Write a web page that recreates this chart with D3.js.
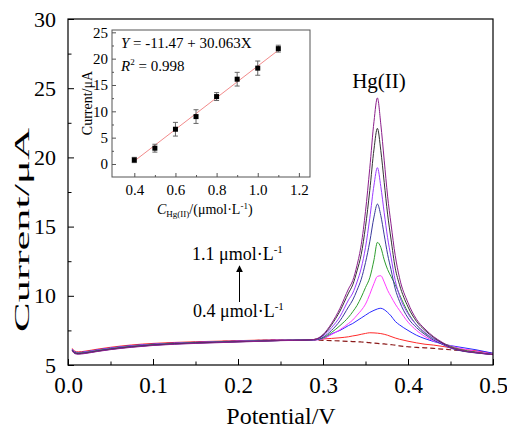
<!DOCTYPE html>
<html><head><meta charset="utf-8">
<script src="https://cdn.jsdelivr.net/npm/d3@7/dist/d3.min.js"></script>
<style>
html,body{margin:0;padding:0;background:#fff;}
svg{display:block;font-family:"Liberation Serif","Times New Roman",serif;}
</style></head>
<body><svg id="chart" width="507" height="428"></svg>
<script>
// ---------- DATA ----------
const potential = [0.005,0.008,0.012,0.02,0.035,0.05,0.075,0.1,0.15,0.2,0.25,
  0.28,0.29,0.30,0.31,0.32,0.33,0.335,0.34,0.345,0.35,0.355,0.36,0.364,0.368,0.372,0.376,0.38,0.385,0.39,0.40,0.41,0.42,0.43,0.44,0.45,0.46,0.48,0.50];

const blank   = [6.1,5.92,5.88,5.93,6.08,6.2,6.38,6.5,6.64,6.73,6.8,
  6.8,6.8,6.78,6.76,6.74,6.71,6.69,6.68,6.66,6.64,6.61,6.58,6.56,6.54,6.52,6.5,6.47,6.43,6.38,6.32,6.27,6.24,6.2,6.15,6.1,6.05,5.95,5.84];
const c04 = [6.2,6.0,5.95,6.0,6.15,6.28,6.45,6.56,6.68,6.76,6.82,
  6.8,6.85,6.88,6.92,6.97,7.04,7.1,7.15,7.22,7.28,7.33,7.32,7.3,7.27,7.22,7.15,7.06,6.95,6.86,6.72,6.6,6.5,6.44,6.35,6.25,6.15,6.03,5.84];
const c05 = [6.15,5.95,5.9,5.95,6.1,6.23,6.4,6.51,6.64,6.73,6.8,
  6.8,6.82,6.9,7.25,7.5,7.85,8.0,8.2,8.4,8.6,8.8,8.95,9.05,9.1,9.0,8.8,8.55,8.15,7.9,7.5,7.15,6.9,6.7,6.53,6.4,6.3,6.1,5.85];
const c06 = [6.12,5.92,5.87,5.92,6.07,6.2,6.37,6.48,6.62,6.71,6.79,
  6.8,6.8,6.9,7.2,7.55,8.0,8.25,8.6,8.95,9.4,10.1,10.9,11.4,11.45,11.0,10.4,9.95,9.4,8.95,8.1,7.5,7.05,6.75,6.55,6.38,6.22,5.98,5.8];
const c07 = [6.1,5.9,5.86,5.9,6.05,6.18,6.35,6.47,6.61,6.7,6.78,
  6.8,6.82,6.95,7.35,7.85,8.45,8.85,9.3,9.9,10.6,11.3,12.6,13.86,13.5,12.6,11.9,11.4,10.8,10.1,8.8,7.9,7.3,6.9,6.6,6.35,6.15,5.93,5.77];
const c08 = [6.08,5.88,5.84,5.88,6.03,6.16,6.33,6.45,6.6,6.69,6.77,
  6.8,6.82,7.0,7.5,8.2,9.2,9.7,10.4,11.2,12.4,13.9,15.7,16.63,15.8,14.4,13.0,11.9,10.5,9.6,8.4,7.7,7.2,6.8,6.5,6.22,6.05,5.87,5.76];
const c09 = [6.05,5.85,5.81,5.86,6.0,6.13,6.3,6.43,6.58,6.68,6.77,
  6.8,6.83,7.1,7.7,8.5,9.7,10.2,11.0,12.0,13.5,15.6,18.0,19.26,17.9,16.0,14.2,12.8,11.1,10.0,8.7,7.9,7.35,6.9,6.55,6.25,6.07,5.88,5.75];
const c10 = [6.05,5.86,5.82,5.86,6.01,6.14,6.31,6.44,6.59,6.68,6.77,
  6.8,6.85,7.15,7.9,8.9,10.2,10.8,11.8,13.0,15.0,17.6,20.6,22.1,20.5,18.2,15.9,14.1,12.0,10.8,9.2,8.15,7.5,7.0,6.6,6.28,6.08,5.89,5.75];
const c11 = [6.02,5.82,5.78,5.83,5.98,6.11,6.28,6.41,6.56,6.66,6.76,
  6.8,6.85,7.2,8.0,9.1,10.5,11.1,12.2,13.7,16.1,19.2,22.6,24.3,22.4,19.8,17.2,15.2,12.9,11.3,9.5,8.3,7.6,7.05,6.65,6.3,6.1,5.9,5.75];

const xTicks = [0.0,0.1,0.2,0.3,0.4,0.5];
const yTicks = [5,10,15,20,25,30];

// inset calibration data
const concentration = [0.4,0.5,0.6,0.7,0.8,0.9,1.0,1.1];
const peakCurrent   = [0.76,3.0,6.6,9.0,12.8,16.1,18.2,21.9];
const peakError     = [0.5,0.75,1.3,1.3,0.75,1.3,1.35,0.65];
const fitIntercept = -11.47, fitSlope = 30.063;
const insetXTicks = [0.4,0.6,0.8,1.0,1.2];
const insetYTicks = [0,5,10,15,20,25];

// ---------- DRAW ----------
const svg = d3.select("#chart");
const x = d3.scaleLinear().domain([0,0.5]).range([68,493]);
const y = d3.scaleLinear().domain([5,30]).range([365,19]);

const series = [
  {v: blank, color:"#8b1a1a", dash:"5,3", w:1.2},
  {v: c04, color:"#ff2a2a"},
  {v: c05, color:"#2b2bff"},
  {v: c06, color:"#ff3cff"},
  {v: c07, color:"#2e9e2e"},
  {v: c08, color:"#3a3a9c"},
  {v: c09, color:"#9b3cff"},
  {v: c10, color:"#333333"},
  {v: c11, color:"#8b1f8b"}
];
const line = d3.line().x((d,i)=>x(potential[i])).y(d=>y(d)).curve(d3.curveMonotoneX);
series.forEach(s=>{
  svg.append("path").attr("d", line(s.v)).attr("fill","none")
    .attr("stroke", s.color).attr("stroke-width", s.w||1)
    .attr("stroke-dasharray", s.dash||null);
});

// frame
svg.append("rect").attr("x",68).attr("y",19).attr("width",425).attr("height",346)
  .attr("fill","none").attr("stroke","#000").attr("stroke-width",1.2);

// x axis
const xAxis = d3.axisBottom(x).tickValues(xTicks).tickFormat(d3.format(".1f"))
  .tickSizeInner(-6).tickSizeOuter(0).tickPadding(12);
const gx = svg.append("g").attr("transform","translate(0,365)").call(xAxis);
gx.select(".domain").remove();
gx.selectAll("text").attr("font-size",23).attr("font-family","Liberation Serif").attr("fill","#000");
const xMinor = d3.axisBottom(x).tickValues(d3.range(0.05,0.5,0.1)).tickFormat("").tickSizeInner(-3.5).tickSizeOuter(0);
const gxm = svg.append("g").attr("transform","translate(0,365)").call(xMinor);
gxm.select(".domain").remove();

// y axis
const yAxis = d3.axisLeft(y).tickValues(yTicks).tickFormat(d3.format("d"))
  .tickSizeInner(-6).tickSizeOuter(0).tickPadding(12);
const gy = svg.append("g").attr("transform","translate(68,0)").call(yAxis);
gy.select(".domain").remove();
gy.selectAll("text").attr("font-size",22).attr("font-family","Liberation Serif").attr("fill","#000");
const yMinor = d3.axisLeft(y).tickValues([7.5,12.5,17.5,22.5,27.5]).tickFormat("").tickSizeInner(-3.5).tickSizeOuter(0);
const gym = svg.append("g").attr("transform","translate(68,0)").call(yMinor);
gym.select(".domain").remove();

// axis titles
svg.append("text").attr("x",281).attr("y",424).attr("text-anchor","middle")
  .attr("font-size",24).text("Potential/V");
svg.append("text").attr("transform","translate(29,230) rotate(-90)").attr("text-anchor","middle")
  .attr("font-size",21).attr("textLength",204).attr("lengthAdjust","spacingAndGlyphs").text("Current/μA");

// annotations
svg.append("text").attr("x",379).attr("y",88).attr("text-anchor","middle").attr("font-size",21).text("Hg(II)");
function concLabel(xp, yp, val){
  const t = svg.append("text").attr("x",xp).attr("y",yp).attr("font-size",18);
  t.append("tspan").text(val + " μmol·L");
  t.append("tspan").attr("dy",-7).attr("font-size",11).text("-1");
}
concLabel(192,260,"1.1");
concLabel(193,317,"0.4");
svg.append("defs").append("marker").attr("id","ah").attr("viewBox","0 0 10 10")
  .attr("refX",9).attr("refY",5).attr("markerWidth",7).attr("markerHeight",9)
  .attr("markerUnits","userSpaceOnUse").attr("orient","auto")
  .append("path").attr("d","M0,0L10,5L0,10Z").attr("fill","#000");
svg.append("line").attr("x1",239.5).attr("y1",302).attr("x2",239.5).attr("y2",266)
  .attr("stroke","#000").attr("stroke-width",1).attr("marker-end","url(#ah)");

// ---------- INSET ----------
const ix = d3.scaleLinear().domain([0.2916,1.254]).range([112,310]);
const iy = d3.scaleLinear().domain([-2.47,25.44]).range([177,30]);
const inset = svg.append("g");
inset.append("rect").attr("x",112).attr("y",30).attr("width",198).attr("height",147)
  .attr("fill","#fff").attr("stroke","#555").attr("stroke-width",1);

const ixAxis = d3.axisBottom(ix).tickValues(insetXTicks).tickFormat(d3.format(".1f"))
  .tickSizeInner(-4).tickSizeOuter(0).tickPadding(7);
const gix = inset.append("g").attr("transform","translate(0,177)").call(ixAxis);
gix.select(".domain").remove();
gix.selectAll("line").attr("stroke","#555");
gix.selectAll("text").attr("font-size",15).attr("font-family","Liberation Serif").attr("fill","#000");
const ixMinor = d3.axisBottom(ix).tickValues([0.5,0.7,0.9,1.1]).tickFormat("").tickSizeInner(-2).tickSizeOuter(0);
const gixm = inset.append("g").attr("transform","translate(0,177)").call(ixMinor);
gixm.select(".domain").remove(); gixm.selectAll("line").attr("stroke","#555");

const iyAxis = d3.axisLeft(iy).tickValues(insetYTicks).tickFormat(d3.format("d"))
  .tickSizeInner(-4).tickSizeOuter(0).tickPadding(4);
const giy = inset.append("g").attr("transform","translate(112,0)").call(iyAxis);
giy.select(".domain").remove();
giy.selectAll("line").attr("stroke","#555");
giy.selectAll("text").attr("font-size",15).attr("font-family","Liberation Serif").attr("fill","#000");
const iyMinor = d3.axisLeft(iy).tickValues([2.5,7.5,12.5,17.5,22.5]).tickFormat("").tickSizeInner(-2).tickSizeOuter(0);
const giym = inset.append("g").attr("transform","translate(112,0)").call(iyMinor);
giym.select(".domain").remove(); giym.selectAll("line").attr("stroke","#555");

// fit line
const fx0 = concentration[0], fx1 = concentration[concentration.length-1];
inset.append("line").attr("x1",ix(fx0)).attr("y1",iy(fitIntercept+fitSlope*fx0))
  .attr("x2",ix(fx1)).attr("y2",iy(fitIntercept+fitSlope*fx1))
  .attr("stroke","#f28b8b").attr("stroke-width",1);

// error bars + points
concentration.forEach((c,i)=>{
  const cx = ix(c), top = iy(peakCurrent[i]+peakError[i]), bot = iy(peakCurrent[i]-peakError[i]);
  inset.append("line").attr("x1",cx).attr("x2",cx).attr("y1",top).attr("y2",bot).attr("stroke","#666").attr("stroke-width",1);
  inset.append("line").attr("x1",cx-2.5).attr("x2",cx+2.5).attr("y1",top).attr("y2",top).attr("stroke","#666").attr("stroke-width",1);
  inset.append("line").attr("x1",cx-2.5).attr("x2",cx+2.5).attr("y1",bot).attr("y2",bot).attr("stroke","#666").attr("stroke-width",1);
  inset.append("rect").attr("x",cx-2.5).attr("y",iy(peakCurrent[i])-2.5).attr("width",5).attr("height",5).attr("fill","#000");
});

// inset titles
inset.append("text").attr("transform","translate(92,103) rotate(-90)").attr("text-anchor","middle")
  .attr("font-size",14).text("Current/μA");
const ixt = inset.append("text").attr("x",157).attr("y",214).attr("font-size",14);
ixt.append("tspan").attr("font-style","italic").text("C");
ixt.append("tspan").attr("dy",3).attr("font-size",9).text("Hg(II)");
ixt.append("tspan").attr("dy",-3).text("/(μmol·L");
ixt.append("tspan").attr("dy",-5).attr("font-size",9).text("-1");
ixt.append("tspan").attr("dy",5).text(")");

const eq = inset.append("text").attr("x",121).attr("y",48).attr("font-size",15);
eq.append("tspan").attr("font-style","italic").text("Y");
eq.append("tspan").text(" = -11.47 + 30.063X");
const r2 = inset.append("text").attr("x",121).attr("y",71).attr("font-size",15);
r2.append("tspan").attr("font-style","italic").text("R");
r2.append("tspan").attr("dy",-6).attr("font-size",9).text("2");
r2.append("tspan").attr("dy",6).text(" = 0.998");
</script></body></html>
